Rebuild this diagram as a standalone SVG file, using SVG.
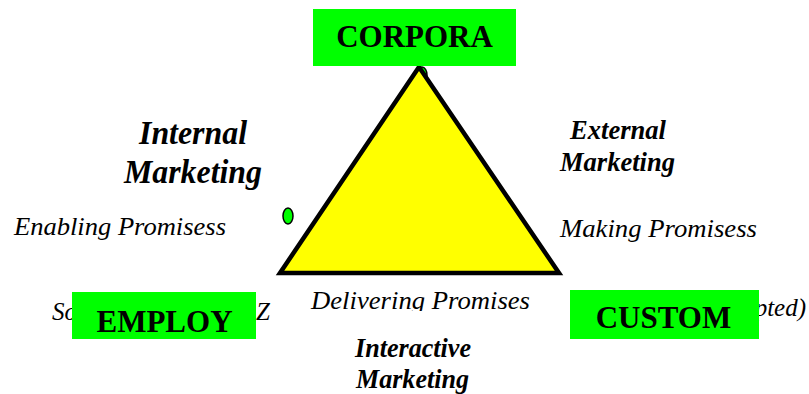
<svg xmlns="http://www.w3.org/2000/svg" width="809" height="394" viewBox="0 0 809 394">
  <style>
    .box { fill: #00ff00; }
    .lbl { font-family: "Liberation Serif", "Times New Roman", serif; font-weight: bold; font-size: 31px; fill: #000; text-anchor: middle; }
    .it { font-family: "Liberation Serif", "Times New Roman", serif; font-style: italic; font-size: 25px; fill: #000; }
    .bi { font-family: "Liberation Serif", "Times New Roman", serif; font-style: italic; font-weight: bold; fill: #000; }
    .dot { fill: #00ff00; stroke: #000; stroke-width: 1.5; }
  </style>
  <defs>
    <clipPath id="deliverClip">
      <rect x="300" y="280" width="250" height="31"/>
    </clipPath>
  </defs>
  <rect width="809" height="394" fill="#fff"/>

  <!-- side captions under the vertex boxes -->
  <text class="it" x="52" y="320">So</text>
  <text class="it" x="256" y="320">Z</text>
  <text class="it" x="806" y="316" text-anchor="end">pted)</text>
  <text class="it" x="311" y="309" textLength="219" lengthAdjust="spacingAndGlyphs" clip-path="url(#deliverClip)">Delivering Promises</text>

  <!-- central triangle -->
  <g id="connectors">
    <ellipse class="dot" cx="422" cy="75" rx="5" ry="8"/>
    <polygon points="280,273 419,67 559,273" fill="#ffff00" stroke="#000" stroke-width="4.5" stroke-linejoin="miter"/>
    <ellipse class="dot" cx="288" cy="216" rx="5" ry="8"/>
  </g>

  <!-- edge labels -->
  <text class="bi" x="139" y="144" font-size="33" textLength="108" lengthAdjust="spacingAndGlyphs">Internal</text>
  <text class="bi" x="124" y="183" font-size="33" textLength="138" lengthAdjust="spacingAndGlyphs">Marketing</text>
  <text class="bi" x="570" y="139" font-size="27" textLength="96" lengthAdjust="spacingAndGlyphs">External</text>
  <text class="bi" x="560" y="171" font-size="27" textLength="115" lengthAdjust="spacingAndGlyphs">Marketing</text>
  <text class="it" x="14" y="235" textLength="212" lengthAdjust="spacingAndGlyphs">Enabling Promisess</text>
  <text class="it" x="560" y="237" textLength="197" lengthAdjust="spacingAndGlyphs">Making Promisess</text>
  <text class="bi" x="355" y="357" font-size="27" textLength="116" lengthAdjust="spacingAndGlyphs">Interactive</text>
  <text class="bi" x="356" y="388" font-size="27" textLength="113" lengthAdjust="spacingAndGlyphs">Marketing</text>

  <!-- vertex boxes -->
  <g id="corpora">
    <rect class="box" x="313" y="9" width="203" height="57"/>
    <text class="lbl" x="414.5" y="47">CORPORA</text>
  </g>
  <g id="employ">
    <rect class="box" x="72" y="292" width="184" height="47"/>
    <text class="lbl" x="164.5" y="332">EMPLOY</text>
  </g>
  <g id="custom">
    <rect class="box" x="570" y="290" width="189" height="49"/>
    <text class="lbl" x="663.5" y="328">CUSTOM</text>
  </g>
</svg>
